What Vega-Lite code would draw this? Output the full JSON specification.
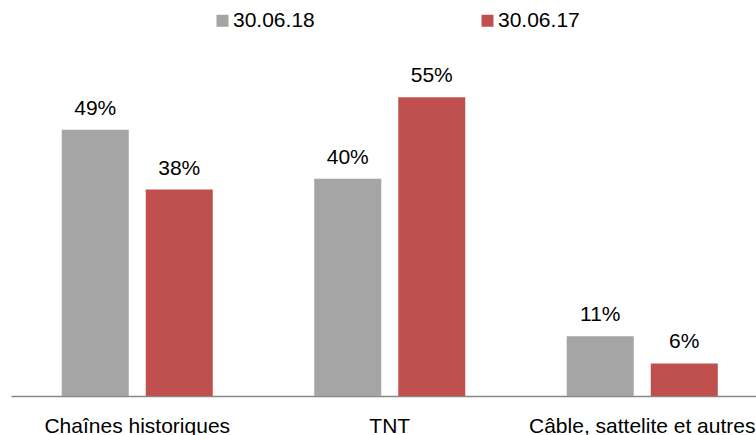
{
  "$schema": "https://vega.github.io/schema/vega-lite/v6.json",
  "width": 745,
  "height": 326,
  "autosize": {"type": "none"},
  "padding": {"left": 11, "top": 70, "right": 0, "bottom": 39},
  "background": "white",
  "config": {
    "view": {"stroke": null},
    "font": "Liberation Sans",
    "text": {"font": "Liberation Sans"}
  },
  "data": {
    "values": [
      {"cat": "Chaînes historiques", "series": "30.06.18", "value": 0.49},
      {"cat": "Chaînes historiques", "series": "30.06.17", "value": 0.38},
      {"cat": "TNT", "series": "30.06.18", "value": 0.40},
      {"cat": "TNT", "series": "30.06.17", "value": 0.55},
      {"cat": "Câble, sattelite et autres", "series": "30.06.18", "value": 0.11},
      {"cat": "Câble, sattelite et autres", "series": "30.06.17", "value": 0.06}
    ]
  },
  "encoding": {
    "x": {
      "field": "cat",
      "type": "nominal",
      "sort": null,
      "scale": {"paddingInner": 0, "paddingOuter": 0, "range": [0, 757.5]},
      "axis": {
        "title": null,
        "labelAngle": 0,
        "labelFontSize": 21,
        "labelColor": "#000000",
        "labelFont": "Liberation Sans",
        "labelLimit": 0,
        "ticks": false,
        "tickSize": 0,
        "labelPadding": 19,
        "domainColor": "#888888",
        "domainWidth": 1.5,
        "grid": false,
        "labelOverlap": false,
        "labelBound": false
      }
    },
    "xOffset": {
      "field": "series",
      "type": "nominal",
      "sort": ["30.06.18", "30.06.17"],
      "scale": {"paddingInner": 0.2024, "paddingOuter": 0.604}
    },
    "y": {
      "field": "value",
      "type": "quantitative",
      "scale": {"domain": [0, 0.6], "nice": false},
      "axis": null
    }
  },
  "layer": [
    {
      "mark": {"type": "bar"},
      "encoding": {
        "color": {
          "field": "series",
          "type": "nominal",
          "sort": ["30.06.18", "30.06.17"],
          "scale": {"domain": ["30.06.18", "30.06.17"], "range": ["#A5A5A5", "#C0504D"]},
          "legend": {
            "title": null,
            "orient": "none",
            "direction": "horizontal",
            "legendX": 201,
            "legendY": -60,
            "symbolType": "square",
            "symbolSize": 144,
            "symbolStrokeWidth": 0,
            "labelFontSize": 21,
            "labelFont": "Liberation Sans",
            "labelColor": "#000000",
            "labelOffset": 0,
            "columnPadding": 162,
            "padding": 0
          }
        }
      }
    },
    {
      "mark": {"type": "text", "baseline": "alphabetic", "dy": -15, "fontSize": 21, "color": "#000000", "font": "Liberation Sans"},
      "encoding": {
        "text": {"field": "value", "type": "quantitative", "format": ".0%"}
      }
    }
  ]
}
